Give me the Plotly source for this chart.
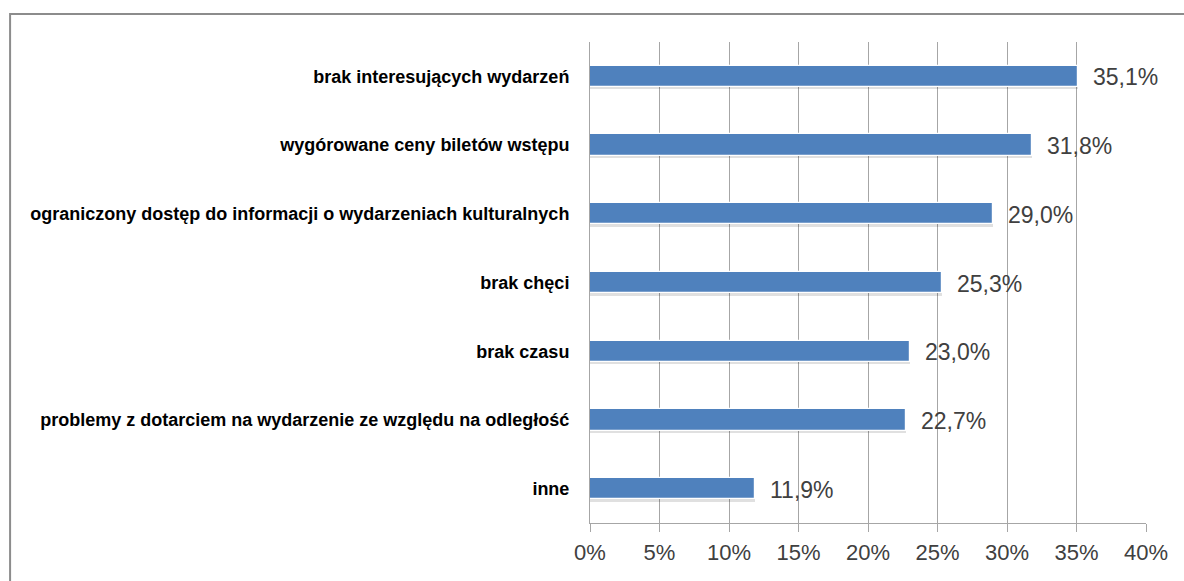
import plotly.graph_objects as go

# Powody niekorzystania z oferty kulturalnej (% wskazań)
categories = [
    "brak interesujących wydarzeń",
    "wygórowane ceny biletów wstępu",
    "ograniczony dostęp do informacji o wydarzeniach kulturalnych",
    "brak chęci",
    "brak czasu",
    "problemy z dotarciem na wydarzenie ze względu na odległość",
    "inne",
]
values = [35.1, 31.8, 29.0, 25.3, 23.0, 22.7, 11.9]
tick_values = [0, 5, 10, 15, 20, 25, 30, 35, 40]
tick_labels = [f"{t}%" for t in tick_values]

value_labels = [f"{v:.1f}%".replace(".", ",") for v in values]

BAR = "#4F81BD"
GRID = "#A6A6A6"
TEXT = "#404040"
LABEL_FONT = "Liberation Sans, Arial"

fig = go.Figure()

# soft shadow under each bar
fig.add_trace(go.Bar(
    x=values, y=categories, orientation="h",
    width=0.32, offset=-0.13,
    marker=dict(color="rgba(0,0,0,0.12)", line=dict(width=0)),
    hoverinfo="skip", showlegend=False,
))

fig.add_trace(go.Bar(
    x=values, y=categories, orientation="h",
    width=0.31,
    marker=dict(color=BAR, line=dict(color="white", width=1.2)),
    showlegend=False,
))

for cat, v, lab in zip(categories, values, value_labels):
    fig.add_annotation(
        x=v, y=cat, text=lab, showarrow=False,
        xanchor="left", yanchor="middle", xshift=13, yshift=-1,
        font=dict(family="Liberation Sans, Arial", size=23, color=TEXT),
    )

# outer frame (left and top edges)
fig.add_shape(
    type="path", xref="paper", yref="paper",
    path="M -1.043,-0.2 L -1.043,1.058 L 1.2,1.058",
    line=dict(color="#8C8C8C", width=2),
)

fig.update_layout(
    width=1184, height=581,
    margin=dict(l=590, r=38, t=42, b=58),
    paper_bgcolor="white", plot_bgcolor="white",
    bargap=0, barmode="overlay",
    xaxis=dict(
        range=[0, 40], tickvals=tick_values, ticktext=tick_labels,
        showgrid=True, gridcolor=GRID, gridwidth=1,
        zeroline=False, showline=True, linecolor=GRID, linewidth=1,
        ticks="outside", ticklen=8, tickcolor=GRID,
        tickfont=dict(family="Liberation Sans, Arial", size=22, color=TEXT),
        ticklabelstandoff=2,
        mirror=False,
    ),
    yaxis=dict(
        categoryorder="array", categoryarray=categories,
        autorange="reversed",
        showgrid=False, showline=True, linecolor=GRID, linewidth=1,
        ticks="", ticklabelstandoff=16,
        tickfont=dict(family=LABEL_FONT, size=18, color="black", weight="bold"),
    ),
)

fig.write_html("out.html")
